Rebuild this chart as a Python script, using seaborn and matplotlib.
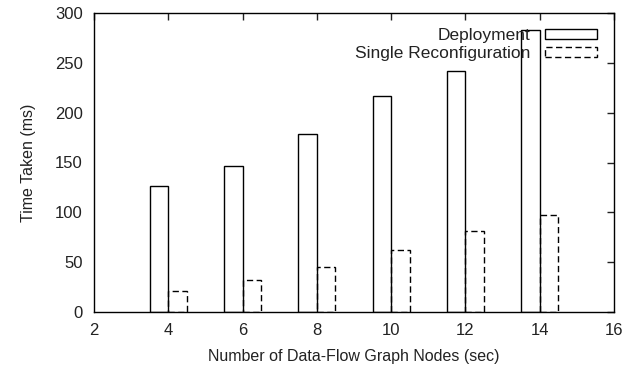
import matplotlib
matplotlib.use("Agg")
import matplotlib.pyplot as plt
from matplotlib.patches import Patch
import seaborn as sns
import pandas as pd

nodes = [4, 6, 8, 10, 12, 14]
deployment = [126, 146, 179, 217, 242, 283]
single_reconfig = [21, 32, 45, 62, 81, 97]
series_names = ["Deployment", "Single Reconfiguration"]

df = pd.DataFrame({
    "nodes": nodes * 2,
    "time": deployment + single_reconfig,
    "series": [series_names[0]] * len(nodes) + [series_names[1]] * len(nodes),
})

sns.set_theme(style="white")
plt.rcParams["font.family"] = ["Liberation Sans", "DejaVu Sans"]

fig = plt.figure(figsize=(6.38, 3.70), dpi=100)
ax = fig.add_axes([94 / 638, 58 / 370, 520 / 638, 299 / 370])

sns.barplot(data=df, x="nodes", y="time", hue="series", native_scale=True,
            width=0.5, fill=False, palette=["black", "black"], ax=ax,
            legend=False, errorbar=None, linewidth=1.0)

dash = (0, (4.5, 2.5))
for i, cont in enumerate(ax.containers):
    for p in cont.patches:
        p.set_edgecolor("black")
        p.set_facecolor("none")
        p.set_linewidth(1.0)
        if i == 1:
            p.set_linestyle(dash)

ax.set_xlim(2, 16)
ax.set_ylim(0, 300)
ax.set_xticks(range(2, 17, 2))
ax.set_yticks(range(0, 301, 50))
ax.tick_params(direction="in", length=5, width=1, top=True, right=True,
               labelsize=12, colors="#222222", pad=8)
for s in ax.spines.values():
    s.set_color("black")
    s.set_linewidth(1.0)
    s.set_visible(True)
ax.set_xlabel("Number of Data-Flow Graph Nodes (sec)", fontsize=11.5, labelpad=8,
              color="#222222")
ax.set_ylabel("Time Taken (ms)", fontsize=11.5, labelpad=14, color="#222222")

handles = [
    Patch(facecolor="none", edgecolor="black", linewidth=1.0, label=series_names[0]),
    Patch(facecolor="none", edgecolor="black", linewidth=1.0, linestyle=dash, label=series_names[1]),
]
leg = ax.legend(handles=handles, loc="upper right", frameon=False, markerfirst=False,
                fontsize=12.5, handlelength=3.0, handleheight=0.5, labelspacing=0.15,
                handletextpad=0.8, borderaxespad=0.3, bbox_to_anchor=(0.99, 0.99))
for t in leg.get_texts():
    t.set_color("#222222")

fig.savefig("out.png", dpi=100, facecolor="white")
